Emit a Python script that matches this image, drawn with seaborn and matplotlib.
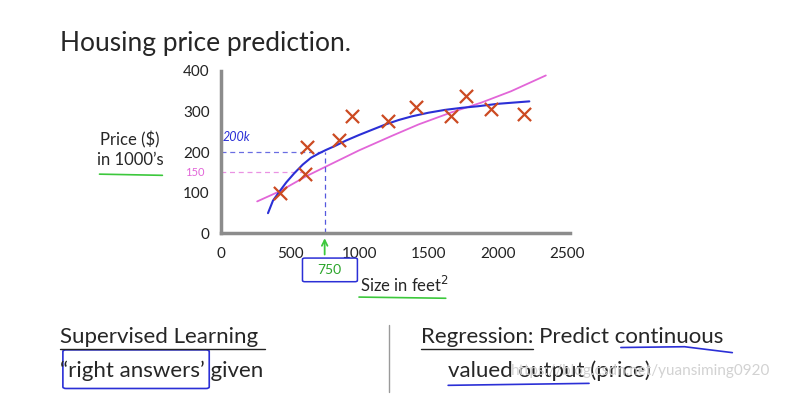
import matplotlib
matplotlib.use("Agg")
import matplotlib.pyplot as plt
import seaborn as sns
import pandas as pd
from matplotlib.lines import Line2D
from matplotlib.patches import FancyBboxPatch

# data
size_ft2 = [425, 610, 620, 850, 950, 1208, 1410, 1660, 1770, 1950, 2190]
price_k = [100, 145, 213, 230, 288, 276, 311, 290, 338, 305, 293]

# hand-drawn curve fit (blue)
blue_x = [341, 377, 425, 473, 532, 592, 652, 711, 759, 831, 902, 998, 1093,
          1189, 1284, 1379, 1499, 1618, 1737, 1857, 2000, 2227]
blue_y = [49, 80, 103, 125, 148, 169, 186, 197, 205, 216, 228, 242, 255,
          268, 279, 288, 297, 304, 309, 313, 319, 325]

# hand-drawn straight fit (pink)
pink_x = [263, 425, 616, 735, 998, 1236, 1427, 1666, 1881, 2095, 2346]
pink_y = [78, 103, 140, 160, 204, 240, 268, 298, 322, 350, 389]

x_ticks = [0, 500, 1000, 1500, 2000, 2500]
y_ticks = [0, 100, 200, 300, 400]

BLUE = "#2b2fd6"
PINK = "#e266d8"
RED = "#cc4a22"
GREEN = "#3cc83c"
GRAY = "#8c8c8c"

sns.set_style("white")
plt.rcParams["font.family"] = ["Lato", "DejaVu Sans"]

fig = plt.figure(figsize=(7.96, 3.94), dpi=100)
ax = fig.add_axes([0.2773, 0.4086, 0.4387, 0.4112])

pts = pd.DataFrame({"size": size_ft2, "price": price_k})
sns.scatterplot(data=pts, x="size", y="price", marker="x", s=90,
                color=RED, linewidth=1.6, ax=ax, zorder=4)
sns.lineplot(x=pink_x, y=pink_y, color=PINK, linewidth=1.3, ax=ax, zorder=2)
sns.lineplot(x=blue_x, y=blue_y, color=BLUE, linewidth=1.5, ax=ax, zorder=3)

# guide lines for the 750 ft2 reading
ax.plot([0, 750], [200, 200], color=BLUE, lw=0.9, ls=(0, (4, 3)), alpha=0.7)
ax.plot([750, 750], [0, 200], color=BLUE, lw=0.9, ls=(0, (4, 3)), alpha=0.8)
ax.plot([-60, 620], [150, 150], color=PINK, lw=0.9, ls=(0, (4, 3)), alpha=0.7)

ax.set_xlim(0, 2520)
ax.set_ylim(0, 400)
ax.set_xticks(x_ticks)
ax.set_yticks(y_ticks)
ax.set_xlabel("")
ax.set_ylabel("")
for side in ["top", "right"]:
    ax.spines[side].set_visible(False)
for side in ["left", "bottom"]:
    ax.spines[side].set_color(GRAY)
    ax.spines[side].set_linewidth(2.5)
ax.tick_params(axis="both", direction="inout", length=8, width=2.5,
               color=GRAY, labelsize=11, labelcolor="#222222")
ax.tick_params(axis="x", pad=6)
ax.tick_params(axis="y", pad=4)

# handwritten notes
ax.text(15, 238, "200k", color=BLUE, fontsize=9, ha="left", va="center",
        style="italic")
ax.text(-190, 150, "150", color=PINK, fontsize=8, ha="center", va="center",
        clip_on=False)
ax.annotate("", xy=(750, -6), xytext=(750, -60),
            arrowprops=dict(arrowstyle="->", color=GREEN, lw=1.3),
            annotation_clip=False)
fig.patches.append(FancyBboxPatch((0.383, 0.288), 0.063, 0.054,
                                  boxstyle="round,pad=0.003", fc="none",
                                  ec=BLUE, lw=1.1, transform=fig.transFigure))
fig.text(0.414, 0.315, "750", color="#2aa52a", fontsize=10, ha="center",
         va="center")

# axis labels
fig.text(0.1634, 0.62, "Price ($)\nin 1000\u2019s", fontsize=12, ha="center",
         va="center", linespacing=1.25)
fig.add_artist(Line2D([0.125, 0.204], [0.558, 0.555], color=GREEN, lw=1.2))
fig.text(0.5075, 0.277, "Size in feet$^2$", fontsize=12, ha="center", va="center")
fig.add_artist(Line2D([0.451, 0.56], [0.246, 0.243], color=GREEN, lw=1.2))

# title
fig.text(0.075, 0.89, "Housing price prediction.", fontsize=19, ha="left",
         va="center")

# bottom notes
FS = 16
fig.add_artist(Line2D([0.489, 0.489], [0.005, 0.175], color="#9a9a9a", lw=1))
fig.text(0.075, 0.145, "Supervised Learning", fontsize=FS, ha="left", va="center")
fig.add_artist(Line2D([0.075, 0.333], [0.115, 0.115], color="#222222", lw=1))
fig.text(0.075, 0.06, "\u201cright answers\u2019 given", fontsize=FS, ha="left",
         va="center")

fig.text(0.529, 0.145, "Regression: Predict continuous", fontsize=FS,
         ha="left", va="center")
# measure "Regression:" to underline only that word
fig.canvas.draw()
probe = fig.text(0.529, 0.145, "Regression:", fontsize=FS, ha="left",
                 va="center", alpha=0)
bb = probe.get_window_extent(fig.canvas.get_renderer())
probe.remove()
reg_end = bb.x1 / fig.bbox.width
fig.add_artist(Line2D([0.529, reg_end], [0.115, 0.115], color="#222222", lw=1))

probe = fig.text(0.075, 0.06, "\u201cright answers\u2019", fontsize=FS,
                 ha="left", va="center", alpha=0)
bb = probe.get_window_extent(fig.canvas.get_renderer())
probe.remove()
ra_end = bb.x1 / fig.bbox.width
fig.patches.append(FancyBboxPatch((0.083, 0.018), ra_end - 0.081, 0.09,
                                  boxstyle="round,pad=0.004", fc="none",
                                  ec=BLUE, lw=1.2, transform=fig.transFigure))

fig.add_artist(Line2D([0.78, 0.86, 0.92], [0.118, 0.12, 0.105], color=BLUE,
                      lw=1.2))
fig.text(0.563, 0.06, "valued output (price)", fontsize=FS, ha="left",
         va="center")
fig.add_artist(Line2D([0.563, 0.74], [0.022, 0.027], color=BLUE, lw=1.2))
fig.text(0.968, 0.058, "https://blog.csdn.net/yuansiming0920", fontsize=11,
         color="#d2d2d2", ha="right", va="center", zorder=5)

fig.savefig("out.png", dpi=100)
